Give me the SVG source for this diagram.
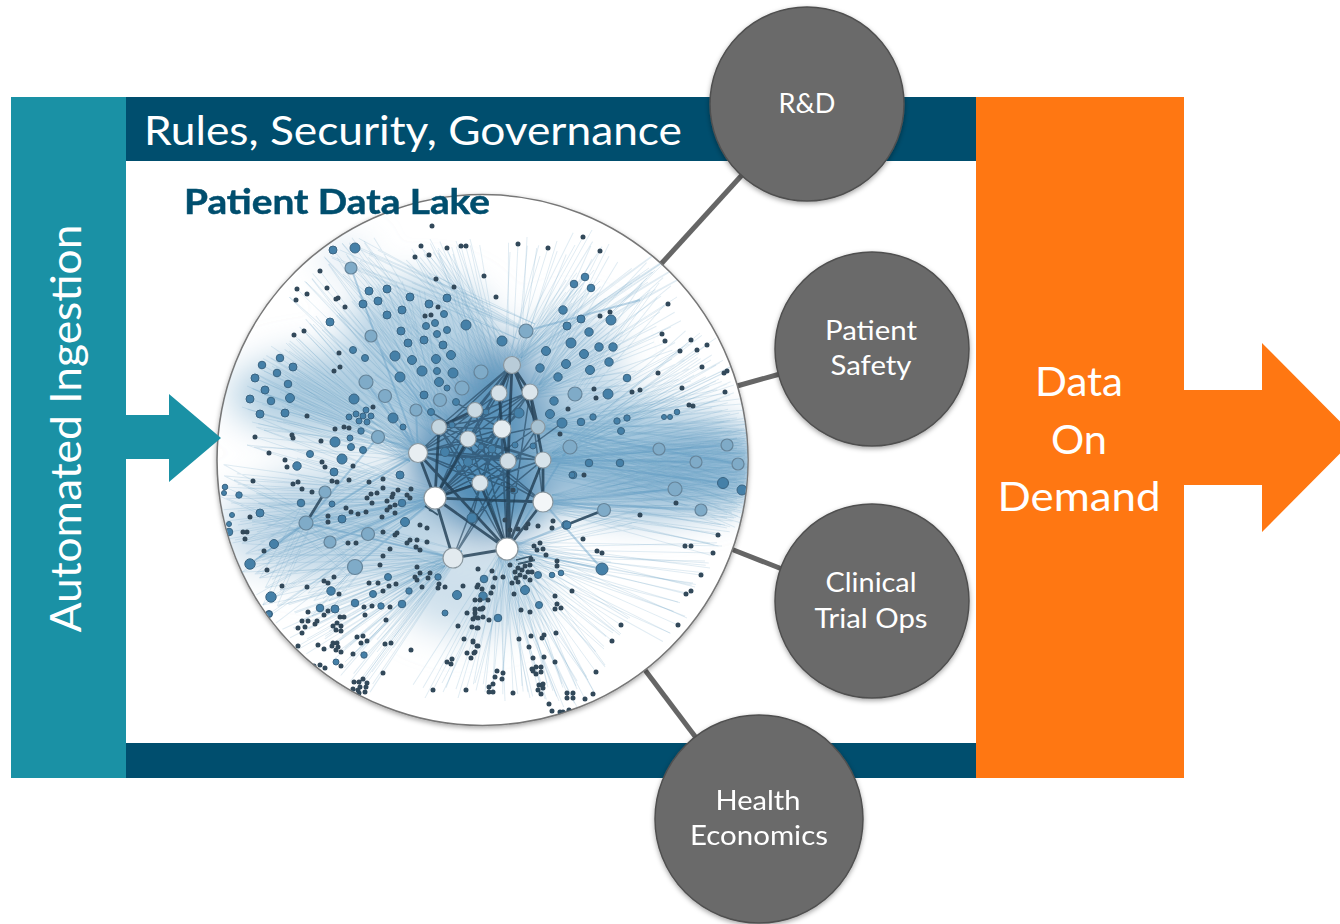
<svg xmlns="http://www.w3.org/2000/svg" width="1340" height="924" viewBox="0 0 1340 924">
<style>
.lbl{font-family:Lato,"Liberation Sans",sans-serif;fill:#fff;text-anchor:middle}
.sat{fill:#6a6a6a;stroke:#505050;stroke-width:1.5;filter:url(#sh)}
.conn{stroke:#666;stroke-width:5;fill:none}
.m{fill:#4580a8;stroke:#3a6482;stroke-width:1}
.l{fill:#7fabc8;stroke:#66859b;stroke-width:1.2}
.h{stroke:#8a979f;stroke-width:1.2}
.dots{fill:none;stroke:#33485a;stroke-linecap:round;stroke-width:5}
.wash{filter:url(#bl)}
</style>
<defs>
<filter id="sh" x="-10%" y="-10%" width="120%" height="120%"><feDropShadow dx="0" dy="2" stdDeviation="2.5" flood-color="#000" flood-opacity=".35"/></filter>
<filter id="bl" x="-40%" y="-40%" width="180%" height="180%"><feGaussianBlur stdDeviation="18"/></filter>
<filter id="soft" x="0" y="0" width="100%" height="100%"><feGaussianBlur stdDeviation=".45"/></filter>
<clipPath id="lakeClip"><circle cx="482.5" cy="460" r="265"/></clipPath>
<path id="fan" fill="none" stroke="#6a9fc4" stroke-width="1" opacity=".2" d="M512 365L661 264M512 365L640 275M530 392L655 270M566 326L660 264M575 394L650 290M526 331L420 280M526 331L360 260M526 331L340 250M499 393L351 268M475 410L333 250M475 410L355 248M439 427L369 291M439 427L387 289M439 427L410 297M418 453L280 358M418 453L262 365M418 453L255 378M418 453L250 399M418 453L260 414M418 453L290 398M418 453L285 413M418 453L293 367M418 453L288 384M439 427L330 322M468 439L371 336M435 498L255 437M435 498L225 487M435 498L239 495M435 498L229 532M435 498L250 564M435 498L274 544M435 498L260 513M435 498L271 597M435 498L269 614M435 498L297 466M453 558L320 608M453 558L301 620M453 558L298 646M453 558L333 643M453 558L363 679M453 558L360 687M453 558L353 654M453 558L385 644M507 549L433 690M507 549L466 690M507 549L493 684M507 549L513 693M507 549L538 690M507 549L553 691M507 549L567 693M507 549L585 699M507 549L596 672M507 549L621 625M507 549L612 641M507 549L678 625M507 549L686 594M507 549L701 575M507 549L713 553M543 502L745 455M543 502L745 440M543 502L745 470M543 502L745 485M543 502L740 495M543 502L735 510M543 502L725 525M543 502L718 535M543 460L745 430M543 460L742 445M543 460L745 460M543 460L745 475M543 460L745 500M543 460L730 420M538 427L745 410M538 427L740 440M538 427L745 455M538 427L745 475M538 427L735 490M538 427L720 400M570 447L745 430M570 447L745 465M570 447L745 495M570 447L740 505M508 461L745 440M508 461L745 450M508 461L745 480M508 461L745 490M508 461L735 505M507 549L602 569M507 549L640 515M530 392L611 320M530 392L613 347M530 392L581 319M530 392L567 326M530 392L627 378M512 365L585 277M512 365L574 284M512 365L591 288M512 365L563 310M475 410L401 331M475 410L424 340M475 410L447 298M499 393L466 325M499 393L443 345M499 393L451 355M453 558L271 597M453 558L250 564M453 558L306 523M306 523L250 564M306 523L225 487M306 523L260 513M306 523L271 597M306 523L368 534M306 523L355 567M330 542L306 523M355 567L320 608M355 567L331 591M418 453L306 523M418 453L325 492M368 534L453 558M355 567L453 558M512 365L415 257M512 365L429 255M499 393L421 246M499 393L447 248M499 393L461 246M512 365L518 244M512 365L548 248M512 365L583 237M530 392L600 251M530 392L668 304M530 392L662 334M543 460L691 340M543 460L707 345M543 460L724 373M543 460L727 371M543 460L702 367M538 427L680 351M538 427L682 388M508 461L725 392M439 427L320 271M439 427L297 289M418 453L304 331M418 453L294 335M418 453L255 437M435 498L243 532M435 498L264 551M435 498L267 570M468 439L345 307M468 439L366 382M468 439L385 396M453 558L302 621M453 558L337 623M453 558L341 652"/>
</defs>
<rect width="1340" height="924" fill="#fff"/>
<g id="governance-top"><rect x="126" y="97" width="850" height="64" fill="#004e6e"/></g>
<g id="governance-bottom"><rect x="126" y="743" width="850" height="35" fill="#004e6e"/></g>
<g id="ingestion"><rect x="11" y="97" width="115" height="681" fill="#1a91a5"/>
<text class="lbl" transform="translate(81 428.500) rotate(-90)" font-size="43" textLength="408" lengthAdjust="spacingAndGlyphs">Automated Ingestion</text></g>
<g id="on-demand"><path d="M976 97H1184V390H1262V343L1356 437.500L1262 532V485H1184V778H976Z" fill="#ff7712"/>
<text class="lbl" font-size="41" x="1079" y="396" textLength="88" lengthAdjust="spacingAndGlyphs">Data</text>
<text class="lbl" font-size="41" x="1079" y="454" textLength="56" lengthAdjust="spacingAndGlyphs">On</text>
<text class="lbl" font-size="41" x="1079" y="511" textLength="163" lengthAdjust="spacingAndGlyphs">Demand</text></g>
<text class="lbl" font-size="41" x="413" y="145" textLength="538" lengthAdjust="spacingAndGlyphs">Rules, Security, Governance</text>
<g id="connectors">
<path class="conn" d="M742 175L661 264"/>
<path class="conn" d="M737 386L780 374"/>
<path class="conn" d="M731 549L782 569"/>
<path class="conn" d="M645 670L697 739"/>
</g>
<g id="patient-data-lake">
<circle cx="482.500" cy="460" r="265.500" fill="#fff" stroke="#777" stroke-width="1.600" filter="url(#sh)"/>
<g clip-path="url(#lakeClip)"><g filter="url(#soft)">
<g class="wash">
<ellipse cx="490" cy="440" rx="82" ry="98" fill="#4f8cb6"/>
<ellipse cx="470" cy="400" rx="70" ry="60" fill="#5a94bc" opacity=".8"/>
<ellipse cx="650" cy="465" rx="125" ry="50" fill="#8fb8d4"/>
<ellipse cx="600" cy="430" rx="70" ry="40" fill="#a8c9df" opacity=".8"/>
<ellipse cx="345" cy="395" rx="115" ry="42" fill="#a9c9de" opacity=".95"/>
<ellipse cx="420" cy="330" rx="75" ry="50" fill="#b3cfe2" opacity=".9"/>
<ellipse cx="340" cy="525" rx="110" ry="55" fill="#b7d1e3" opacity=".9"/>
<ellipse cx="570" cy="360" rx="50" ry="48" fill="#bcd5e6" opacity=".8"/>
<ellipse cx="470" cy="590" rx="75" ry="45" fill="#c6dbe9" opacity=".85"/>
<ellipse cx="345" cy="258" rx="24" ry="15" fill="#cfe0ec" opacity=".9"/>
<ellipse cx="250" cy="530" rx="35" ry="40" fill="#cfe0ec" opacity=".7"/>
</g>
<use href="#fan"/><use href="#fan" transform="rotate(2.500 482 460)"/><use href="#fan" transform="rotate(-2.500 482 460)"/><use href="#fan" transform="translate(9 -7)"/><use href="#fan" transform="translate(-8 8)"/><use href="#fan" transform="rotate(5 482 460)"/>
<path fill="none" stroke="#5c98c0" stroke-width="2" opacity=".42" d="M306 523L418 453M306 523L435 498M306 523L453 558M250 564L306 523M274 544L306 523M330 542L435 498M368 534L435 498M355 567L435 498M604 510L543 502M604 510L507 549M602 569L507 549M602 569L543 502M566 525L507 549M659 449L543 460M696 462L543 460M727 445L543 460M675 489L543 502M701 510L543 502M723 483L543 460M738 464L538 427M366 382L418 453M385 396L418 453M371 336L439 427M351 268L418 453M416 410L418 453M378 437L418 453M378 437L306 523M526 331L640 300M569 447L507 549"/>
<path fill="none" stroke="#1f3f58" stroke-width="1.500" opacity=".6" d="M512 365L475 410M512 365L439 427M512 365L468 439M512 365L418 453M530 392L468 439M530 392L439 427M530 392L435 498M499 393L418 453M499 393L435 498M475 410L435 498M475 410L507 549M439 427L507 549M439 427L543 502M468 439L543 460M468 439L543 502M468 439L507 549M502 429L418 453M502 429L435 498M502 429L507 549M502 429L453 558M502 429L439 427M538 427L435 498M538 427L418 453M538 427L453 558M508 461L418 453M508 461L435 498M508 461L453 558M543 460L435 498M543 460L418 453M543 460L439 427M480 483L418 453M480 483L439 427M480 483L543 460M418 453L530 392M512 365L435 498M499 393L507 549M530 392L507 549M530 392L543 502M445 452L512 365M445 452L543 460M492 449L435 498M492 449L530 392M519 413L439 427M519 413L435 498M468 462L530 392M468 462L543 502M455 402L502 429M431 412L508 461M562 423L480 483M472 518L512 365M514 490L418 453M472 518L543 460"/>
<path fill="none" stroke="#233f55" stroke-width="2.800" opacity=".82" d="M512 365L499 393M512 365L530 392M512 365L508 461M512 365L538 427M530 392L543 460M530 392L538 427M499 393L502 429M439 427L435 498M418 453L435 498M435 498L543 502M435 498L507 549M435 498L453 558M435 498L480 483M435 498L468 439M480 483L507 549M453 558L507 549M508 461L507 549M508 461L510 549M543 460L507 549M543 460L543 502M543 502L507 549M502 429L508 461M468 439L435 498M418 453L507 549M439 427L475 410M325 492L306 523M566 525L604 510"/>
<path fill="none" stroke="#27465c" stroke-width="1.800" opacity=".85" d="M425 506L438 515M429 510L434 512M516 560L532 556M518 564L535 560"/>
<g>
<circle class="m" cx="333" cy="250" r="4"/><circle class="m" cx="355" cy="248" r="5"/><circle class="l" cx="351" cy="268" r="6"/><circle class="m" cx="369" cy="291" r="4"/><circle class="m" cx="387" cy="289" r="4"/><circle class="m" cx="378" cy="301" r="4"/><circle class="m" cx="363" cy="304" r="4"/><circle class="m" cx="410" cy="297" r="4"/><circle class="m" cx="429" cy="304" r="4"/><circle class="m" cx="447" cy="298" r="4"/><circle class="m" cx="402" cy="310" r="4"/><circle class="m" cx="387" cy="315" r="4"/><circle class="m" cx="444" cy="314" r="3.500"/><circle class="m" cx="330" cy="322" r="4"/><circle class="l" cx="371" cy="336" r="6"/><circle class="m" cx="401" cy="331" r="4"/><circle class="m" cx="466" cy="325" r="5"/><circle class="m" cx="426" cy="326" r="3.500"/><circle class="m" cx="435" cy="323" r="3.500"/><circle class="m" cx="437" cy="334" r="3.500"/><circle class="m" cx="447" cy="330" r="3.500"/><circle class="m" cx="424" cy="340" r="4"/><circle class="m" cx="408" cy="343" r="4"/><circle class="m" cx="443" cy="345" r="4"/><circle class="m" cx="353" cy="350" r="3.500"/><circle class="m" cx="395" cy="356" r="5"/><circle class="m" cx="412" cy="360" r="4.500"/><circle class="m" cx="436" cy="359" r="4.500"/><circle class="m" cx="451" cy="355" r="4.500"/><circle class="m" cx="365" cy="358" r="3.500"/><circle class="m" cx="280" cy="358" r="3.800"/><circle class="m" cx="262" cy="365" r="3.800"/><circle class="m" cx="293" cy="367" r="4"/><circle class="m" cx="277" cy="373" r="3.800"/><circle class="m" cx="255" cy="378" r="4"/><circle class="m" cx="288" cy="384" r="3.800"/><circle class="m" cx="265" cy="390" r="4"/><circle class="m" cx="250" cy="399" r="4"/><circle class="m" cx="271" cy="401" r="3.800"/><circle class="m" cx="290" cy="398" r="4.500"/><circle class="m" cx="260" cy="414" r="4"/><circle class="m" cx="285" cy="413" r="4"/><circle class="m" cx="400" cy="377" r="5"/><circle class="m" cx="422" cy="371" r="5"/><circle class="m" cx="437" cy="371" r="3.500"/><circle class="m" cx="453" cy="373" r="5"/><circle class="m" cx="439" cy="382" r="4.500"/><circle class="m" cx="447" cy="388" r="3"/><circle class="m" cx="424" cy="395" r="4"/><circle class="m" cx="456" cy="402" r="3.500"/><circle class="l" cx="366" cy="382" r="7"/><circle class="l" cx="385" cy="396" r="6.500"/><circle class="m" cx="354" cy="399" r="5"/><circle class="m" cx="393" cy="418" r="5"/><circle class="m" cx="403" cy="427" r="3"/><circle class="l" cx="416" cy="410" r="6"/><circle class="m" cx="431" cy="412" r="3.500"/><circle class="l" cx="440" cy="400" r="6.500"/><circle class="l" cx="462" cy="388" r="7"/><circle class="l" cx="481" cy="372" r="7"/>
<circle class="m" cx="335" cy="442" r="5"/><circle class="m" cx="342" cy="459" r="5"/><circle class="m" cx="310" cy="454" r="3.500"/><circle class="m" cx="351" cy="447" r="3.500"/><circle class="m" cx="363" cy="450" r="3.500"/><circle class="m" cx="350" cy="438" r="3"/><circle class="m" cx="361" cy="431" r="3.200"/><circle class="m" cx="349" cy="417" r="3"/><circle class="m" cx="356" cy="414" r="3"/><circle class="m" cx="366" cy="410" r="3"/><circle class="m" cx="363" cy="416" r="3"/><circle class="m" cx="371" cy="416" r="3"/><circle class="m" cx="359" cy="421" r="3"/><circle class="m" cx="367" cy="422" r="3"/><circle class="l" cx="378" cy="437" r="6.500"/>
<circle class="m" cx="574" cy="284" r="3.800"/><circle class="m" cx="585" cy="277" r="3.800"/><circle class="m" cx="591" cy="288" r="3.800"/><circle class="m" cx="563" cy="310" r="4.200"/><circle class="m" cx="581" cy="319" r="4"/><circle class="m" cx="611" cy="320" r="5"/><circle class="m" cx="567" cy="326" r="4"/><circle class="m" cx="589" cy="332" r="4.200"/><circle class="l" cx="526" cy="331" r="7"/><circle class="m" cx="502" cy="341" r="5"/><circle class="m" cx="571" cy="343" r="5"/><circle class="m" cx="599" cy="347" r="4.200"/><circle class="m" cx="613" cy="347" r="4.200"/><circle class="m" cx="546" cy="351" r="4.500"/><circle class="m" cx="584" cy="354" r="4.500"/><circle class="m" cx="566" cy="364" r="4.500"/><circle class="m" cx="609" cy="362" r="4.200"/><circle class="m" cx="540" cy="368" r="4.200"/><circle class="m" cx="590" cy="370" r="4.500"/><circle class="m" cx="558" cy="377" r="4.200"/><circle class="m" cx="627" cy="378" r="3.800"/><circle class="l" cx="575" cy="394" r="7"/><circle class="m" cx="608" cy="394" r="5"/><circle class="m" cx="554" cy="401" r="4.200"/><circle class="m" cx="550" cy="414" r="4.500"/><circle class="m" cx="519" cy="413" r="5"/><circle class="m" cx="562" cy="423" r="5"/><circle class="m" cx="581" cy="422" r="3.800"/><circle class="m" cx="593" cy="417" r="3.200"/><circle class="m" cx="617" cy="421" r="3.200"/><circle class="m" cx="627" cy="418" r="3.200"/><circle class="m" cx="621" cy="431" r="3.500"/><circle class="m" cx="589" cy="463" r="3.800"/><circle class="m" cx="620" cy="463" r="3.800"/><circle class="m" cx="677" cy="412" r="2.800"/><circle class="m" cx="670" cy="417" r="2.500"/><circle class="m" cx="664" cy="417" r="2.500"/>
<circle class="l" cx="570" cy="447" r="7"/><circle class="l" cx="659" cy="449" r="6"/><circle class="l" cx="727" cy="445" r="6"/><circle class="l" cx="696" cy="462" r="6"/><circle class="l" cx="738" cy="464" r="6"/><circle class="m" cx="573" cy="475" r="3.800"/><circle class="l" cx="675" cy="489" r="7"/><circle class="m" cx="723" cy="483" r="5.500"/><circle class="m" cx="742" cy="490" r="5"/><circle class="l" cx="701" cy="510" r="6"/><circle class="l" cx="604" cy="510" r="6.500"/><circle class="m" cx="566" cy="525" r="4.200"/><circle class="m" cx="602" cy="569" r="6"/>
<circle class="m" cx="525" cy="590" r="4.500"/><circle class="m" cx="484" cy="579" r="3.800"/><circle class="m" cx="483" cy="596" r="4.200"/><circle class="m" cx="498" cy="618" r="3.800"/><circle class="m" cx="539" cy="605" r="3.500"/><circle class="m" cx="538" cy="575" r="3.500"/><circle class="m" cx="561" cy="573" r="2.800"/><circle class="m" cx="552" cy="575" r="2.800"/>
<circle class="m" cx="297" cy="466" r="4.200"/><circle class="m" cx="334" cy="472" r="4"/><circle class="m" cx="225" cy="487" r="2.800"/><circle class="m" cx="239" cy="495" r="3.200"/><circle class="m" cx="260" cy="513" r="4"/><circle class="m" cx="229" cy="532" r="3.800"/><circle class="m" cx="274" cy="544" r="4.500"/><circle class="m" cx="250" cy="564" r="5.200"/><circle class="m" cx="271" cy="597" r="5.200"/><circle class="m" cx="269" cy="614" r="3.500"/><circle class="m" cx="301" cy="503" r="3.800"/><circle class="l" cx="325" cy="492" r="6"/><circle class="l" cx="306" cy="523" r="7"/><circle class="m" cx="332" cy="504" r="3"/><circle class="m" cx="342" cy="519" r="4"/><circle class="l" cx="330" cy="542" r="6"/><circle class="l" cx="368" cy="534" r="6.500"/><circle class="l" cx="355" cy="567" r="7.500"/><circle class="m" cx="400" cy="475" r="4"/><circle class="m" cx="405" cy="522" r="4.500"/><circle class="m" cx="402" cy="503" r="3.800"/><circle class="m" cx="331" cy="591" r="4.200"/><circle class="m" cx="320" cy="608" r="3.800"/><circle class="m" cx="335" cy="609" r="4"/><circle class="m" cx="355" cy="603" r="3.800"/><circle class="m" cx="381" cy="606" r="3.200"/><circle class="m" cx="402" cy="604" r="3.800"/><circle class="m" cx="373" cy="594" r="3.500"/><circle class="m" cx="388" cy="577" r="3.500"/><circle class="m" cx="409" cy="591" r="3.200"/><circle class="m" cx="457" cy="595" r="4.500"/><circle class="m" cx="438" cy="577" r="3.200"/><circle class="m" cx="445" cy="613" r="3"/><circle class="m" cx="364" cy="655" r="3.200"/><circle class="m" cx="336" cy="662" r="3"/><circle class="m" cx="224" cy="493" r="2.500"/><circle class="m" cx="232" cy="515" r="2.500"/><circle class="m" cx="229" cy="524" r="2.500"/><circle class="m" cx="269" cy="614" r="3"/>
<circle class="m" cx="445" cy="452" r="4.500"/><circle class="m" cx="468" cy="462" r="4.500"/><circle class="m" cx="492" cy="449" r="4"/><circle class="m" cx="514" cy="490" r="4"/><circle class="m" cx="472" cy="518" r="5"/><circle class="m" cx="567" cy="525" r="4"/><circle class="m" cx="572" cy="475" r="3"/><circle class="m" cx="481" cy="447" r="3"/><circle class="m" cx="515" cy="445" r="3"/><circle class="m" cx="486" cy="412" r="3"/><circle class="m" cx="452" cy="425" r="3"/><circle class="m" cx="459" cy="468" r="3"/><circle class="m" cx="533" cy="446" r="3"/>
<circle class="h" cx="512" cy="365" r="8.500" fill="#b9ccd8"/><circle class="h" cx="499" cy="393" r="8" fill="#d3e0e8"/><circle class="h" cx="530" cy="392" r="8" fill="#dbe6ec"/><circle class="h" cx="475" cy="410" r="7.500" fill="#c9d9e3"/><circle class="h" cx="502" cy="429" r="9" fill="#e4ecf1"/><circle class="h" cx="538" cy="427" r="7" fill="#a8c2d2"/><circle class="h" cx="439" cy="427" r="7.500" fill="#c4d6e0"/><circle class="h" cx="468" cy="439" r="8" fill="#d3e0e8"/><circle class="h" cx="418" cy="453" r="9.500" fill="#e8eef2"/><circle class="h" cx="508" cy="461" r="8" fill="#cfdde6"/><circle class="h" cx="543" cy="460" r="8" fill="#d7e3ea"/><circle class="h" cx="480" cy="483" r="8" fill="#d9e5ec"/><circle class="h" cx="435" cy="498" r="11" fill="#fff"/><circle class="h" cx="543" cy="502" r="10" fill="#f3f6f8"/><circle class="h" cx="507" cy="549" r="11" fill="#fff"/><circle class="h" cx="453" cy="558" r="10" fill="#e2eaef"/>
</g>
<path class="dots" d="M432 226h0M421 246h0M447 248h0M461 246h0M466 246h0M429 255h0M415 257h0M484 276h0M436 279h0M454 287h0M320 271h0M297 289h0M327 288h0M307 294h0M296 300h0M336 299h0M338 298h0M345 307h0M438 307h0M425 316h0M431 315h0M304 331h0M294 335h0M339 353h0M340 367h0M334 371h0M373 407h0M307 416h0M255 437h0M292 435h0M293 438h0M335 429h0M344 427h0M349 428h0M321 441h0M269 453h0M285 460h0M287 467h0M322 462h0M325 467h0M353 466h0M518 244h0M548 248h0M583 237h0M600 251h0M496 297h0M600 316h0M610 312h0M594 389h0M596 398h0M632 392h0M640 390h0M568 409h0M560 434h0M668 304h0M662 334h0M665 341h0M691 340h0M707 345h0M697 350h0M680 351h0M702 367h0M658 373h0M724 373h0M727 371h0M682 388h0M725 392h0M689 405h0M693 406h0M253 481h0M293 484h0M298 482h0M302 489h0M312 492h0M250 517h0M243 532h0M247 532h0M245 539h0M264 551h0M267 570h0M282 586h0M307 587h0M328 522h0M328 516h0M346 508h0M351 512h0M358 514h0M366 512h0M349 480h0M332 481h0M337 482h0M369 482h0M383 479h0M377 493h0M371 494h0M367 498h0M372 503h0M393 494h0M387 501h0M392 497h0M398 490h0M411 489h0M407 495h0M410 498h0M390 507h0M395 505h0M387 510h0M395 513h0M382 517h0M383 488h0M397 533h0M395 535h0M383 532h0M420 525h0M427 528h0M410 540h0M407 543h0M417 540h0M427 542h0M416 547h0M420 550h0M390 549h0M383 556h0M380 565h0M417 567h0M420 573h0M415 577h0M417 580h0M430 573h0M428 578h0M356 543h0M348 543h0M324 581h0M328 583h0M334 577h0M369 583h0M378 583h0M389 586h0M396 584h0M383 591h0M422 587h0M439 584h0M438 588h0M445 587h0M339 594h0M364 607h0M372 606h0M390 607h0M308 612h0M324 615h0M328 611h0M365 615h0M386 620h0M302 621h0M308 621h0M298 628h0M305 627h0M302 633h0M317 621h0M315 624h0M340 617h0M344 617h0M337 623h0M341 626h0M333 626h0M336 630h0M341 631h0M298 646h0M318 645h0M324 649h0M333 643h0M337 643h0M332 646h0M338 647h0M336 650h0M341 652h0M353 654h0M357 637h0M363 636h0M367 641h0M361 643h0M385 644h0M391 643h0M411 650h0M383 673h0M341 666h0M325 668h0M320 665h0M314 666h0M363 679h0M359 682h0M367 683h0M354 682h0M360 687h0M366 687h0M353 689h0M358 690h0M365 692h0M359 693h0M433 690h0M466 690h0M489 687h0M464 639h0M473 641h0M478 646h0M467 653h0M475 652h0M471 658h0M452 659h0M447 662h0M451 664h0M458 626h0M467 613h0M473 619h0M478 618h0M475 613h0M472 627h0M478 628h0M480 600h0M475 600h0M475 609h0M482 609h0M477 587h0M478 569h0M463 586h0M583 539h0M597 551h0M602 553h0M640 515h0M676 503h0M718 535h0M685 546h0M691 546h0M713 553h0M701 575h0M686 594h0M691 591h0M678 625h0M621 625h0M612 641h0M596 672h0M572 591h0M585 699h0M593 694h0M549 704h0M552 711h0M560 712h0M563 712h0M569 710h0M513 693h0M555 662h0M544 657h0M556 633h0M544 635h0M542 638h0M519 639h0M531 636h0M529 647h0M533 658h0M532 669h0M536 667h0M541 667h0M533 671h0M536 674h0M541 672h0M543 684h0M539 685h0M538 690h0M543 688h0M541 694h0M567 693h0M573 693h0M567 698h0M573 698h0M497 671h0M503 673h0M495 677h0M502 679h0M493 684h0M493 692h0M489 692h0M555 596h0M557 604h0M555 609h0M561 608h0M530 612h0M521 610h0M514 594h0M557 561h0M557 566h0M546 555h0M543 549h0M540 543h0M534 546h0M537 550h0M531 559h0M552 528h0M553 521h0M538 526h0M526 528h0M528 524h0M513 490h0M505 520h0M510 530h0M518 529h0M525 566h0M518 568h0M522 570h0M528 572h0M515 572h0M520 575h0M525 577h0M516 578h0M510 565h0M530 565h0M532 572h0M518 582h0M530 580h0M478 569h0M492 571h0M503 577h0M512 583h0M495 578h0M493 587h0M478 585h0M482 589h0M491 593h0M488 600h0M483 608h0M475 610h0M480 609h0M475 617h0M478 618h0M483 617h0M489 620h0M472 627h0M477 628h0M473 642h0M477 646h0M474 653h0M471 658h0M584 475h0"/>
</g></g>
</g>
<text id="lake-title" x="337" y="214" font-family="Lato,'Liberation Sans',sans-serif" font-weight="700" font-size="35" text-anchor="middle" fill="#004e6e" stroke="#004e6e" stroke-width=".5" textLength="306" lengthAdjust="spacingAndGlyphs">Patient Data Lake</text>
<g id="rd"><circle class="sat" cx="807" cy="104" r="97"/><text class="lbl" font-size="26" x="807" y="113" textLength="57" lengthAdjust="spacingAndGlyphs">R&amp;D</text></g>
<g id="patient-safety"><circle class="sat" cx="872" cy="349" r="97"/><text class="lbl" font-size="26" x="871" y="340" textLength="92" lengthAdjust="spacingAndGlyphs">Patient</text><text class="lbl" font-size="26" x="871" y="375" textLength="81" lengthAdjust="spacingAndGlyphs">Safety</text></g>
<g id="clinical-trial-ops"><circle class="sat" cx="872" cy="601" r="97"/><text class="lbl" font-size="26" x="871" y="592" textLength="91" lengthAdjust="spacingAndGlyphs">Clinical</text><text class="lbl" font-size="26" x="871" y="628" textLength="113" lengthAdjust="spacingAndGlyphs">Trial Ops</text></g>
<g id="health-economics"><circle class="sat" cx="759" cy="819" r="104"/><text class="lbl" font-size="26" x="758" y="810" textLength="85" lengthAdjust="spacingAndGlyphs">Health</text><text class="lbl" font-size="26" x="759" y="845" textLength="138" lengthAdjust="spacingAndGlyphs">Economics</text></g>
<g id="ingest-arrow"><path d="M126 415H169V394L221 438L169 482V459H126Z" fill="#1a91a5"/></g>
</svg>
